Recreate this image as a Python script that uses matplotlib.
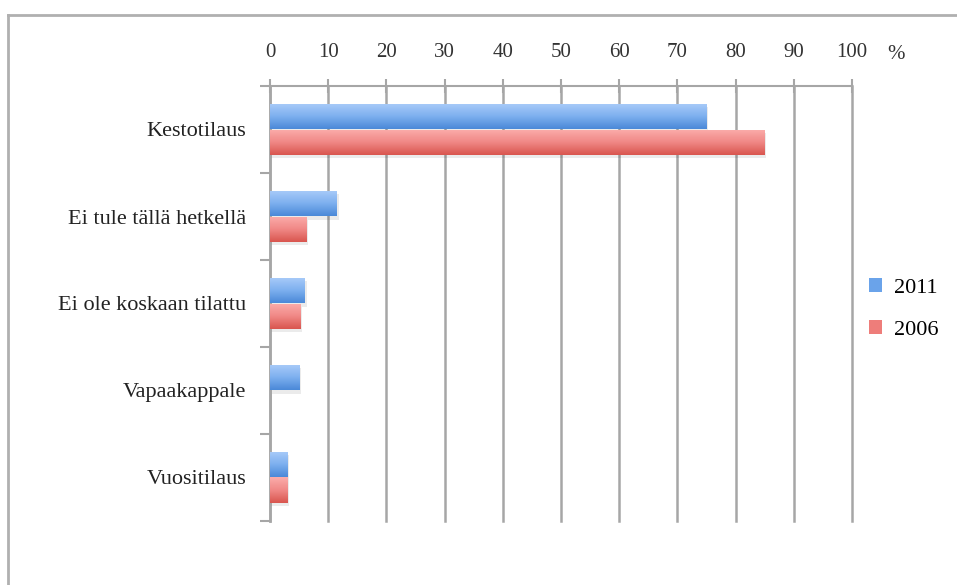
import numpy as np
import matplotlib
matplotlib.use("Agg")
import matplotlib.pyplot as plt
from matplotlib.colors import LinearSegmentedColormap
from matplotlib.lines import Line2D
from matplotlib.patches import Patch

categories = ["Kestotilaus", "Ei tule tällä hetkellä", "Ei ole koskaan tilattu",
              "Vapaakappale", "Vuositilaus"]
series_names = ["2011", "2006"]
values_2011 = [75, 11.5, 6, 5, 3]
values_2006 = [85, 6.2, 5.2, 0, 3]
x_ticks = list(range(0, 101, 10))

plt.rcParams["font.family"] = ["Liberation Serif", "DejaVu Serif"]

W, H = 957, 585
fig = plt.figure(figsize=(W / 100, H / 100), dpi=100)
ax = fig.add_axes([270 / W, 1 - 521 / H, (852 - 270) / W, (521 - 86) / H])

grid_col = "#a6a6a6"
blue_cmap = LinearSegmentedColormap.from_list("b", ["#a9cbf9", "#7eb0ef", "#4a89d8"])
red_cmap = LinearSegmentedColormap.from_list("r", ["#fbadab", "#f08886", "#d9564f"])

y = np.arange(len(categories))
bh = 0.29

# light shadow behind bars
for vals, off in ((values_2011, -bh / 2), (values_2006, bh / 2)):
    ax.barh(y + off + 0.035, np.array(vals) + 0.3, height=bh, color="#000000",
            alpha=0.08, zorder=2, linewidth=0)

grad = np.linspace(0, 1, 64).reshape(-1, 1)
for vals, off, cmap in ((values_2011, -bh / 2, blue_cmap), (values_2006, bh / 2, red_cmap)):
    bars = ax.barh(y + off, vals, height=bh, color="none", linewidth=0, zorder=3)
    for b in bars:
        if b.get_width() <= 0:
            continue
        x0, y0 = b.get_x(), b.get_y()
        im = ax.imshow(grad, cmap=cmap, aspect="auto", origin="upper",
                       extent=(x0, x0 + b.get_width(), y0 + b.get_height(), y0),
                       zorder=3, interpolation="bilinear")
        im.set_clip_path(b)

ax.set_xlim(0, 100)
ax.set_ylim(len(categories) - 0.5, -0.5)

# x axis on top
ax.xaxis.set_ticks_position("top")
ax.set_xticks(x_ticks)
ax.set_xticklabels([str(t) for t in x_ticks], fontsize=15, color="#333333")
ax.tick_params(axis="x", direction="inout", length=10, width=1.5, color=grid_col, pad=12)
ax.grid(axis="x", color=grid_col, linewidth=1.8, zorder=1)
for gl in ax.get_xgridlines():
    gl.set_clip_on(False)
ax.set_axisbelow(True)

# y ticks: labels at centers, tick marks at boundaries
ax.set_yticks(y)
ax.set_yticklabels(categories, fontsize=16, color="#222222")
ax.tick_params(axis="y", which="major", length=0, pad=17)
ax.set_yticks(np.arange(-0.5, len(categories)), minor=True)
ax.tick_params(axis="y", which="minor", direction="out", length=7, width=1.5, color=grid_col)

for s in ("right", "bottom"):
    ax.spines[s].set_visible(False)
ax.spines["top"].set_color(grid_col)
ax.spines["top"].set_linewidth(1.5)
ax.spines["left"].set_color(grid_col)
ax.spines["left"].set_linewidth(1.8)

ax.text(1.075, 1.0 + 22 / (521 - 86), "%", transform=ax.transAxes, fontsize=15,
        color="#333333", ha="center", va="bottom")

handles = [Patch(facecolor="#6aa3ea", edgecolor="none"),
           Patch(facecolor="#ee7d7a", edgecolor="none")]
fig.legend(handles, series_names, loc="center left", bbox_to_anchor=(0.887, 0.472),
           frameon=False, fontsize=16, handlelength=0.6, handleheight=0.6,
           handletextpad=0.55, labelspacing=1.0)

# outer chart frame (top and left visible)
fig.add_artist(Line2D([8 / W, 1], [1 - 15 / H, 1 - 15 / H], color="#b0b0b0", linewidth=2))
fig.add_artist(Line2D([8 / W, 8 / W], [0, 1 - 15 / H], color="#b0b0b0", linewidth=2))

fig.savefig("out.png", dpi=100)
